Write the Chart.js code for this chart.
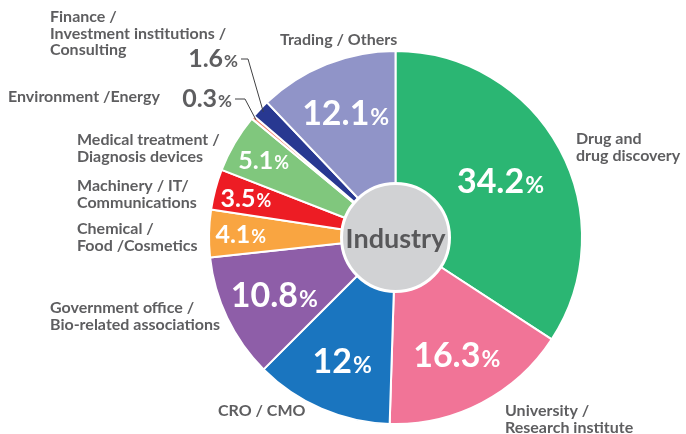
<!DOCTYPE html>
<html>
<head>
<meta charset="utf-8">
<script src="https://cdn.jsdelivr.net/npm/chart.js@4/dist/chart.umd.min.js"></script>
<style>
  html, body { margin: 0; padding: 0; background: #fff; }
  #wrap { width: 686px; height: 434px; position: relative; }
</style>
</head>
<body>
<div id="wrap"><canvas id="industryChart"></canvas></div>
<script>
// data, clockwise from 12 o'clock
const categories = [
    "Drug and\ndrug discovery",
    "University /\nResearch institute",
    "CRO / CMO",
    "Government office /\nBio-related associations",
    "Chemical /\nFood /Cosmetics",
    "Machinery / IT/\nCommunications",
    "Medical treatment /\nDiagnosis devices",
    "Environment /Energy",
    "Finance /\nInvestment institutions /\nConsulting",
    "Trading / Others"
];
const shares = [34.2, 16.3, 12, 10.8, 4.1, 3.5, 5.1, 0.3, 1.6, 12.1];
const valueLabels = ["34.2", "16.3", "12", "10.8", "4.1", "3.5", "5.1", "0.3", "1.6", "12.1"];
const centerTitle = "Industry";

const colors = ["#2bb673", "#f17497", "#1a75bf", "#8e5ea8", "#f9a541", "#ed1c24", "#80c77d", "#f4846c", "#283891", "#9094c8"];

// where the category names sit (left x, first baseline y)
const namePos = [
    [576, 144], [505, 416], [218, 416], [50, 313], [77, 234],
    [77, 191], [77, 145], [8, 102], [50, 22], [280, 45]
];
// how far out (share of radius) each inside value sits
const valueRadius = [0.64, 0.71, 0.72, 0.72, 0.83, 0.83, 0.82, 0, 0, 0.72];
// outside value labels for the thin slices: [right x of text, baseline y, elbow x]
const outsideVal = { 7: [232, 107, 245], 8: [238, 67, 248] };

const textGray = "#5e5e60";
const FONT = "Lato, 'Noto Sans', sans-serif";

function drawPct(ctx, str, x, y, big, small, color, align) {
    ctx.font = "bold " + big + "px " + FONT;
    const w1 = ctx.measureText(str).width;
    ctx.font = "bold " + small + "px " + FONT;
    const w2 = ctx.measureText("%").width;
    const total = w1 + w2 + 1;
    let left = x - total / 2;
    if (align === "right") left = x - total;
    ctx.fillStyle = color;
    ctx.textAlign = "left";
    ctx.textBaseline = "alphabetic";
    ctx.font = "bold " + big + "px " + FONT;
    ctx.fillText(str, left, y);
    ctx.font = "bold " + small + "px " + FONT;
    ctx.fillText("%", left + w1 + 1, y);
}

const labelPlugin = {
    id: 'labels',
    afterDatasetsDraw(chart) {
        const ctx = chart.ctx;
        const arcs = chart.getDatasetMeta(0).data;
        const cx = arcs[0].x, cy = arcs[0].y, R = arcs[0].outerRadius;
        ctx.save();

        // center disc
        ctx.beginPath();
        ctx.arc(cx, cy, 54, 0, Math.PI * 2);
        ctx.fillStyle = "#d1d2d4";
        ctx.fill();
        ctx.lineWidth = 3;
        ctx.strokeStyle = "#fff";
        ctx.stroke();
        ctx.fillStyle = "#58585a";
        ctx.font = "bold 27px " + FONT;
        ctx.textAlign = "center";
        ctx.textBaseline = "middle";
        ctx.fillText(centerTitle, cx, cy + 2);

        arcs.forEach((arc, i) => {
            const mid = (arc.startAngle + arc.endAngle) / 2;
            const v = shares[i];
            if (outsideVal[i]) {
                const [rx, by, ex] = outsideVal[i];
                drawPct(ctx, valueLabels[i], rx, by, 25, 17, textGray, "right");
                // leader line
                const px = cx + Math.cos(mid) * (R - 4);
                const py = cy + Math.sin(mid) * (R - 4);
                ctx.beginPath();
                ctx.moveTo(rx + 3, by - 8);
                ctx.lineTo(ex, by - 8);
                ctx.lineTo(px, py);
                ctx.strokeStyle = "#404042";
                ctx.lineWidth = 1;
                ctx.stroke();
            } else {
                const small = v < 6;
                const rr = R * valueRadius[i];
                const x = cx + Math.cos(mid) * rr;
                const y = cy + Math.sin(mid) * rr;
                if (small) drawPct(ctx, valueLabels[i], x, y + 9, 25, 18, "#fff");
                else drawPct(ctx, valueLabels[i], x, y + 12, 34, 23, "#fff");
            }

            // category name
            const [lx, ly] = namePos[i];
            ctx.fillStyle = textGray;
            ctx.font = "bold 16px " + FONT;
            ctx.textAlign = "left";
            ctx.textBaseline = "alphabetic";
            categories[i].split("\n").forEach((line, k) => {
                ctx.fillText(line, lx, ly + k * 16.5);
            });
        });
        ctx.restore();
    }
};

new Chart(document.getElementById('industryChart'), {
    type: 'pie',
    data: {
        labels: categories,
        datasets: [{
            data: shares,
            backgroundColor: colors,
            borderColor: "#fff",
            borderWidth: 2
        }]
    },
    options: {
        responsive: true,
        maintainAspectRatio: false,
        animation: false,
        layout: { padding: { left: 208, right: 103, top: 50, bottom: 9 } },
        plugins: {
            legend: { display: false },
            tooltip: { enabled: false }
        }
    },
    plugins: [labelPlugin]
});
</script>
</body>
</html>
